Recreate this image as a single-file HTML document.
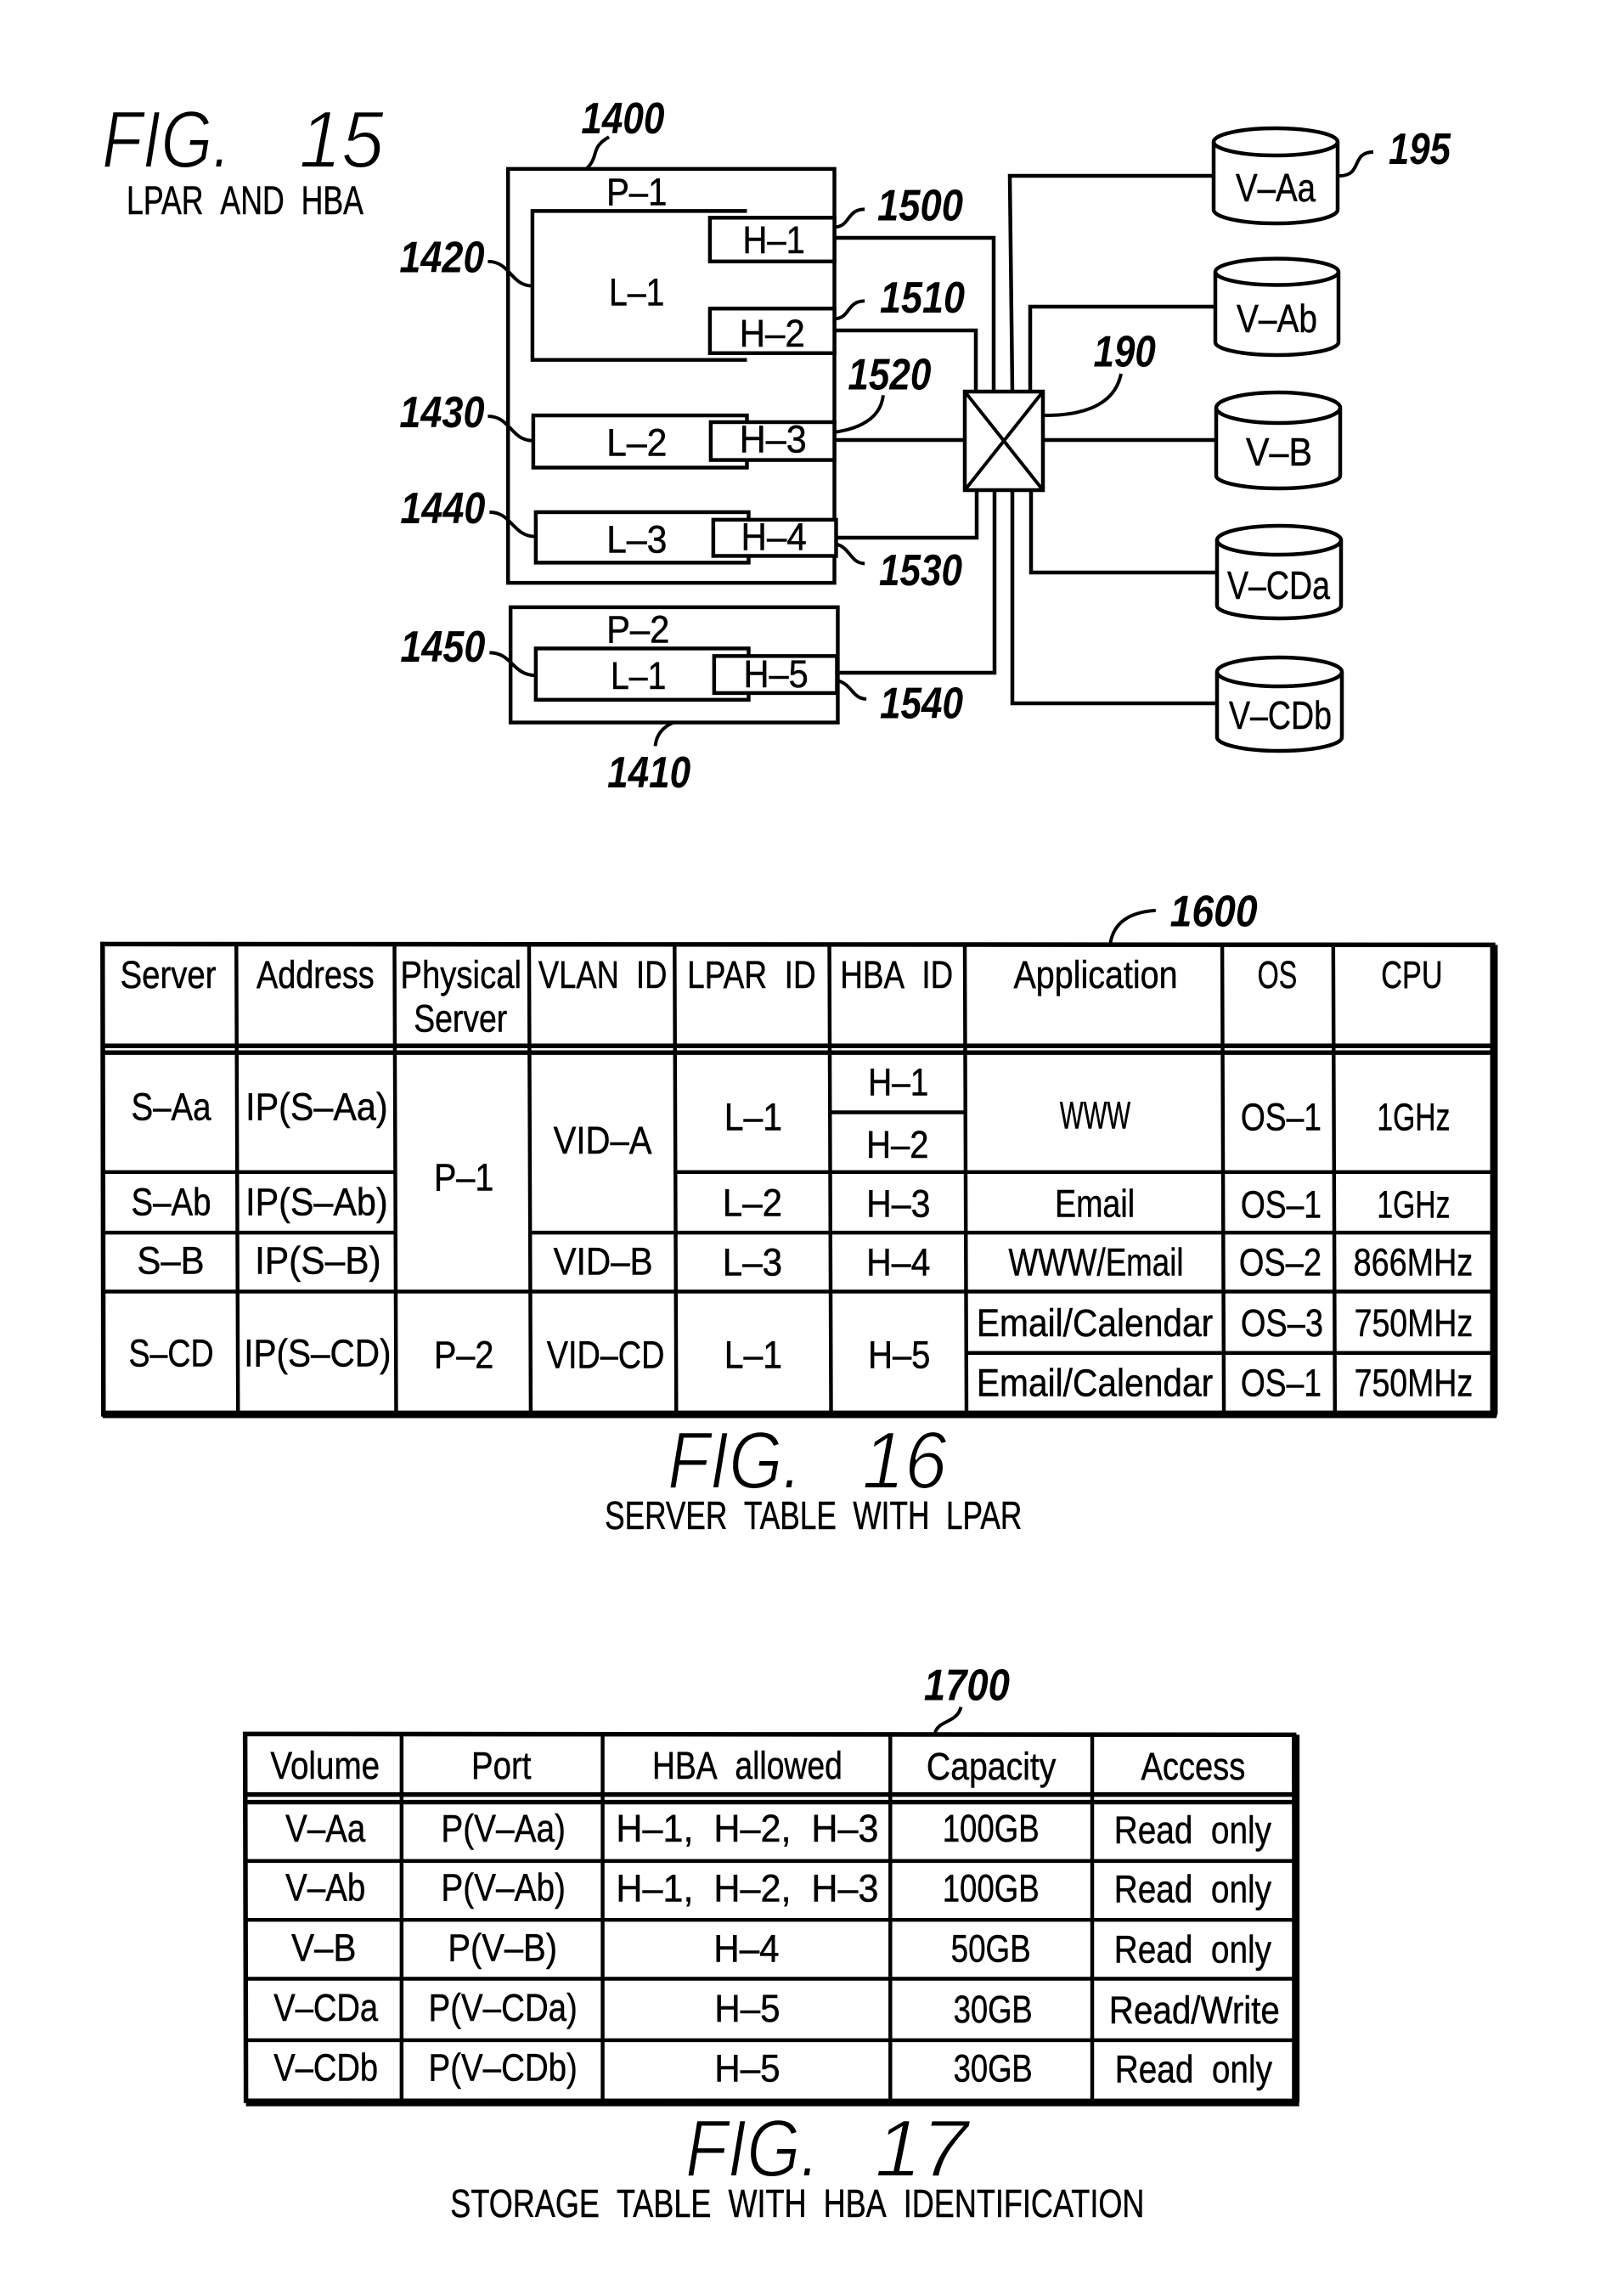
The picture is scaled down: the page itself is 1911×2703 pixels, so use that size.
<!DOCTYPE html>
<html><head><meta charset="utf-8"><title>FIG. 15-17</title>
<style>
html,body{margin:0;padding:0;background:#fff;width:1911px;height:2703px;overflow:hidden}
svg{display:block}
text{font-family:"Liberation Sans",sans-serif;font-size:46px;fill:#000;stroke:#000;stroke-width:.5px}
.n{font-size:52px;font-style:italic;font-weight:bold;stroke-width:0}
.f{font-size:96px;font-style:italic;stroke:#fff;stroke-width:2px}
.c{font-size:47px}
.l{fill:none;stroke:#000;stroke-width:4.5}
.t{fill:none;stroke:#000;stroke-width:4}
.o{fill:none;stroke:#000;stroke-width:5.5}
.h{fill:#fff;stroke:#000;stroke-width:4.5}
.k{fill:none;stroke:#000;stroke-width:9}
</style></head><body>
<svg xmlns="http://www.w3.org/2000/svg" width="1911" height="2703" viewBox="0 0 1911 2703">
<rect width="1911" height="2703" fill="#fff"/>

<!-- FIG 15 title -->
<text class="f" x="120" y="197" textLength="152" lengthAdjust="spacingAndGlyphs">FIG.</text>
<text class="f" x="352" y="197" textLength="100" lengthAdjust="spacingAndGlyphs">15</text>
<text class="c" x="149" y="252" textLength="279" lengthAdjust="spacingAndGlyphs">LPAR&#160;&#160;AND&#160;&#160;HBA</text>

<!-- connectors -->
<path class="l" d="M983,280H1170V461"/>
<path class="l" d="M983,389H1149V461"/>
<path class="l" d="M983,518H1136"/>
<path class="l" d="M984,633H1150V577"/>
<path class="l" d="M985,792H1171V577"/>
<path class="l" d="M1192,461L1189,207H1429"/>
<path class="l" d="M1213,461V361H1431"/>
<path class="l" d="M1228,518H1432"/>
<path class="l" d="M1214,577V674H1433"/>
<path class="l" d="M1192,577V828H1433"/>

<rect class="h" x="1136" y="461" width="92" height="116"/>
<path class="t" d="M1136,461L1228,577M1228,461L1136,577"/>
<path class="t" d="M1320,440Q1310,489 1230,489"/>
<path class="t" d="M1617,179C1590,179 1605,207 1577,207"/>

<!-- cylinders -->
<path class="h" d="M1429,167A73,16 0 0 1 1575,167V247A73,16 0 0 1 1429,247Z"/><path class="l" d="M1429,167A73,16 0 0 0 1575,167"/>
<path class="h" d="M1431,320A72.5,15.5 0 0 1 1576,320V403A72.5,15 0 0 1 1431,403Z"/><path class="l" d="M1431,320A72.5,15.5 0 0 0 1576,320"/>
<path class="h" d="M1432,480A73,18 0 0 1 1578,480V560A73,15 0 0 1 1432,560Z"/><path class="l" d="M1432,480A73,18 0 0 0 1578,480"/>
<path class="h" d="M1433,636A73,17 0 0 1 1579,636V713A73,15 0 0 1 1433,713Z"/><path class="l" d="M1433,636A73,17 0 0 0 1579,636"/>
<path class="h" d="M1433,791A73.5,17 0 0 1 1580,791V868A73.5,16 0 0 1 1433,868Z"/><path class="l" d="M1433,791A73.5,17 0 0 0 1580,791"/>

<text x="1455" y="237" textLength="94" lengthAdjust="spacingAndGlyphs">V–Aa</text>
<text x="1456" y="391" textLength="95" lengthAdjust="spacingAndGlyphs">V–Ab</text>
<text x="1467" y="548" textLength="78" lengthAdjust="spacingAndGlyphs">V–B</text>
<text x="1445" y="705" textLength="121" lengthAdjust="spacingAndGlyphs">V–CDa</text>
<text x="1447" y="858" textLength="121" lengthAdjust="spacingAndGlyphs">V–CDb</text>
<text class="n" x="1635" y="193" textLength="73" lengthAdjust="spacingAndGlyphs">195</text>

<g transform="translate(100 80) scale(.99045) translate(-100 -80)">
<rect class="l" x="603" y="200" width="388" height="492"/>
<rect class="l" x="606" y="721" width="389" height="137"/>

<path class="l" d="M887,250H632V427H887"/>
<rect class="l" x="633" y="493" width="254" height="62"/>
<rect class="l" x="636" y="608" width="253" height="60"/>
<rect class="l" x="636" y="770" width="253" height="61"/>
<rect class="h" x="843" y="258" width="148" height="52"/>
<rect class="h" x="843" y="366" width="148" height="53"/>
<rect class="h" x="844" y="501" width="147" height="45"/>
<rect class="h" x="847" y="617" width="146" height="43"/>
<rect class="h" x="848" y="779" width="146" height="44"/>

<path class="t" d="M723,162C700,175 712,185 696,200"/>
<path class="t" d="M1027,248C1005,248 1010,269 991,269"/>
<path class="t" d="M1027,357C1005,357 1010,378 991,378"/>
<path class="t" d="M1049,469Q1045,505 991,513"/>
<path class="t" d="M1027,669C1010,669 1010,650 993,646"/>
<path class="t" d="M1029,830C1012,830 1012,812 994,808"/>
<path class="t" d="M778,886Q780,866 800,858"/>
<path class="t" d="M579,310C606,310 606,339 632,339"/>
<path class="t" d="M579,494C606,494 606,523 633,523"/>
<path class="t" d="M581,608C608,608 608,637 636,637"/>
<path class="t" d="M581,775C608,775 608,802 636,802"/>

<text class="n" x="690" y="158" textLength="99" lengthAdjust="spacingAndGlyphs">1400</text>
<text class="n" x="1042" y="261" textLength="102" lengthAdjust="spacingAndGlyphs">1500</text>
<text class="n" x="1045" y="371" textLength="101" lengthAdjust="spacingAndGlyphs">1510</text>
<text class="n" x="1007" y="462" textLength="99" lengthAdjust="spacingAndGlyphs">1520</text>
<text class="n" x="1044" y="695" textLength="99" lengthAdjust="spacingAndGlyphs">1530</text>
<text class="n" x="1045" y="853" textLength="99" lengthAdjust="spacingAndGlyphs">1540</text>
<text class="n" x="721" y="935" textLength="99" lengthAdjust="spacingAndGlyphs">1410</text>
<text class="n" x="474" y="323" textLength="101" lengthAdjust="spacingAndGlyphs">1420</text>
<text class="n" x="474" y="507" textLength="101" lengthAdjust="spacingAndGlyphs">1430</text>
<text class="n" x="475" y="621" textLength="101" lengthAdjust="spacingAndGlyphs">1440</text>
<text class="n" x="475" y="786" textLength="101" lengthAdjust="spacingAndGlyphs">1450</text>
<text class="n" x="1299" y="435" textLength="74" lengthAdjust="spacingAndGlyphs">190</text>

<text x="720" y="243" textLength="72" lengthAdjust="spacingAndGlyphs">P–1</text>
<text x="723" y="362" textLength="66" lengthAdjust="spacingAndGlyphs">L–1</text>
<text x="882" y="300" textLength="74" lengthAdjust="spacingAndGlyphs">H–1</text>
<text x="878" y="411" textLength="78" lengthAdjust="spacingAndGlyphs">H–2</text>
<text x="720" y="541" textLength="72" lengthAdjust="spacingAndGlyphs">L–2</text>
<text x="878" y="537" textLength="80" lengthAdjust="spacingAndGlyphs">H–3</text>
<text x="720" y="656" textLength="72" lengthAdjust="spacingAndGlyphs">L–3</text>
<text x="880" y="653" textLength="78" lengthAdjust="spacingAndGlyphs">H–4</text>
<text x="720" y="763" textLength="75" lengthAdjust="spacingAndGlyphs">P–2</text>
<text x="725" y="818" textLength="66" lengthAdjust="spacingAndGlyphs">L–1</text>
<text x="883" y="816" textLength="77" lengthAdjust="spacingAndGlyphs">H–5</text>
</g>

<!-- FIG 16 -->
<text class="f" x="786" y="1752" textLength="158" lengthAdjust="spacingAndGlyphs">FIG.</text>
<text class="f" x="1015" y="1752" textLength="100" lengthAdjust="spacingAndGlyphs">16</text>
<g transform="translate(100 1050) scale(.99045) translate(-100 -1050)">
<path class="t" d="M1373,1072Q1325,1075 1319,1111"/>
<text class="n" x="1390" y="1091" textLength="104" lengthAdjust="spacingAndGlyphs">1600</text>
<path class="o" d="M121,1112L1774,1113L1776,1671L122,1671Z"/>
<path class="k" d="M1775,1113V1671M121,1671H1778"/>
<path class="o" d="M120,1233H1774M120,1241H1775"/>
<path class="l" d="M280,1112L282,1671M468,1112L470,1671M628,1112L630,1671M801,1112L803,1671M985,1112L987,1671M1146,1112L1148,1671M1452,1112L1454,1671M1584,1112L1586,1671"/>
<path class="l" d="M120,1383H470M801,1383H1775M985,1312H1147M120,1455H470M629,1455H1775M121,1525H1775M1147,1598H1775"/>

<text x="142" y="1164" textLength="114" lengthAdjust="spacingAndGlyphs">Server</text>
<text x="304" y="1164" textLength="140" lengthAdjust="spacingAndGlyphs">Address</text>
<text x="475" y="1164" textLength="144" lengthAdjust="spacingAndGlyphs">Physical</text>
<text x="491" y="1216" textLength="111" lengthAdjust="spacingAndGlyphs">Server</text>
<text x="639" y="1164" textLength="153" lengthAdjust="spacingAndGlyphs">VLAN&#160;&#160;ID</text>
<text x="816" y="1164" textLength="153" lengthAdjust="spacingAndGlyphs">LPAR&#160;&#160;ID</text>
<text x="998" y="1164" textLength="134" lengthAdjust="spacingAndGlyphs">HBA&#160;&#160;ID</text>
<text x="1204" y="1164" textLength="195" lengthAdjust="spacingAndGlyphs">Application</text>
<text x="1494" y="1164" textLength="47" lengthAdjust="spacingAndGlyphs">OS</text>
<text x="1641" y="1164" textLength="73" lengthAdjust="spacingAndGlyphs">CPU</text>

<text x="155" y="1321" textLength="95" lengthAdjust="spacingAndGlyphs">S–Aa</text>
<text x="291" y="1321" textLength="169" lengthAdjust="spacingAndGlyphs">IP(S–Aa)</text>
<text x="155" y="1434" textLength="95" lengthAdjust="spacingAndGlyphs">S–Ab</text>
<text x="291" y="1434" textLength="169" lengthAdjust="spacingAndGlyphs">IP(S–Ab)</text>
<text x="162" y="1504" textLength="80" lengthAdjust="spacingAndGlyphs">S–B</text>
<text x="302" y="1504" textLength="150" lengthAdjust="spacingAndGlyphs">IP(S–B)</text>
<text x="152" y="1614" textLength="101" lengthAdjust="spacingAndGlyphs">S–CD</text>
<text x="289" y="1614" textLength="175" lengthAdjust="spacingAndGlyphs">IP(S–CD)</text>
<text x="515" y="1405" textLength="71" lengthAdjust="spacingAndGlyphs">P–1</text>
<text x="515" y="1616" textLength="71" lengthAdjust="spacingAndGlyphs">P–2</text>
<text x="657" y="1361" textLength="117" lengthAdjust="spacingAndGlyphs">VID–A</text>
<text x="657" y="1505" textLength="118" lengthAdjust="spacingAndGlyphs">VID–B</text>
<text x="649" y="1616" textLength="140" lengthAdjust="spacingAndGlyphs">VID–CD</text>
<text x="860" y="1333" textLength="69" lengthAdjust="spacingAndGlyphs">L–1</text>
<text x="858" y="1435" textLength="71" lengthAdjust="spacingAndGlyphs">L–2</text>
<text x="858" y="1506" textLength="71" lengthAdjust="spacingAndGlyphs">L–3</text>
<text x="860" y="1616" textLength="69" lengthAdjust="spacingAndGlyphs">L–1</text>
<text x="1031" y="1292" textLength="72" lengthAdjust="spacingAndGlyphs">H–1</text>
<text x="1029" y="1366" textLength="74" lengthAdjust="spacingAndGlyphs">H–2</text>
<text x="1029" y="1436" textLength="76" lengthAdjust="spacingAndGlyphs">H–3</text>
<text x="1029" y="1506" textLength="76" lengthAdjust="spacingAndGlyphs">H–4</text>
<text x="1031" y="1616" textLength="74" lengthAdjust="spacingAndGlyphs">H–5</text>
<text x="1259" y="1331" textLength="84" lengthAdjust="spacingAndGlyphs">WWW</text>
<text x="1253" y="1436" textLength="95" lengthAdjust="spacingAndGlyphs">Email</text>
<text x="1198" y="1506" textLength="208" lengthAdjust="spacingAndGlyphs">WWW/Email</text>
<text x="1160" y="1578" textLength="281" lengthAdjust="spacingAndGlyphs">Email/Calendar</text>
<text x="1160" y="1649" textLength="281" lengthAdjust="spacingAndGlyphs">Email/Calendar</text>
<text x="1474" y="1333" textLength="96" lengthAdjust="spacingAndGlyphs">OS–1</text>
<text x="1474" y="1437" textLength="96" lengthAdjust="spacingAndGlyphs">OS–1</text>
<text x="1472" y="1506" textLength="98" lengthAdjust="spacingAndGlyphs">OS–2</text>
<text x="1474" y="1578" textLength="98" lengthAdjust="spacingAndGlyphs">OS–3</text>
<text x="1474" y="1649" textLength="96" lengthAdjust="spacingAndGlyphs">OS–1</text>
<text x="1636" y="1333" textLength="87" lengthAdjust="spacingAndGlyphs">1GHz</text>
<text x="1636" y="1437" textLength="87" lengthAdjust="spacingAndGlyphs">1GHz</text>
<text x="1608" y="1506" textLength="142" lengthAdjust="spacingAndGlyphs">866MHz</text>
<text x="1609" y="1578" textLength="141" lengthAdjust="spacingAndGlyphs">750MHz</text>
<text x="1609" y="1649" textLength="141" lengthAdjust="spacingAndGlyphs">750MHz</text>

<text class="c" x="718" y="1807" textLength="496" lengthAdjust="spacingAndGlyphs">SERVER&#160;&#160;TABLE&#160;&#160;WITH&#160;&#160;LPAR</text>
</g>

<!-- FIG 17 -->
<text class="f" x="807" y="2562" textLength="158" lengthAdjust="spacingAndGlyphs">FIG.</text>
<text class="f" x="1030" y="2562" textLength="110" lengthAdjust="spacingAndGlyphs">17</text>
<g transform="translate(250 1970) scale(.99045) translate(-250 -1970)">
<text class="n" x="1096" y="2002" textLength="102" lengthAdjust="spacingAndGlyphs">1700</text>
<path class="t" d="M1140,2010C1135,2030 1112,2025 1109,2042"/>
<path class="o" d="M289,2042L1536,2043L1538,2479L290,2478Z"/>
<path class="k" d="M1538,2043V2480M290,2480H1542"/>
<path class="o" d="M289,2114H1537M289,2123H1537"/>
<path class="l" d="M475,2042V2478M714,2042V2478M1056,2042V2479M1296,2042V2479"/>
<path class="l" d="M289,2193H1537M289,2263H1537M289,2333H1537M289,2406H1538"/>

<text x="319" y="2095" textLength="130" lengthAdjust="spacingAndGlyphs">Volume</text>
<text x="558" y="2095" textLength="71" lengthAdjust="spacingAndGlyphs">Port</text>
<text x="773" y="2095" textLength="226" lengthAdjust="spacingAndGlyphs">HBA&#160;&#160;allowed</text>
<text x="1099" y="2096" textLength="154" lengthAdjust="spacingAndGlyphs">Capacity</text>
<text x="1354" y="2096" textLength="124" lengthAdjust="spacingAndGlyphs">Access</text>

<text x="337" y="2170" textLength="95" lengthAdjust="spacingAndGlyphs">V–Aa</text>
<text x="522" y="2170" textLength="148" lengthAdjust="spacingAndGlyphs">P(V–Aa)</text>
<text x="730" y="2170" textLength="312" lengthAdjust="spacingAndGlyphs">H–1,&#160;&#160;H–2,&#160;&#160;H–3</text>
<text x="1118" y="2170" textLength="115" lengthAdjust="spacingAndGlyphs">100GB</text>
<text x="1322" y="2172" textLength="187" lengthAdjust="spacingAndGlyphs">Read&#160;&#160;only</text>

<text x="337" y="2240" textLength="95" lengthAdjust="spacingAndGlyphs">V–Ab</text>
<text x="522" y="2240" textLength="148" lengthAdjust="spacingAndGlyphs">P(V–Ab)</text>
<text x="730" y="2241" textLength="312" lengthAdjust="spacingAndGlyphs">H–1,&#160;&#160;H–2,&#160;&#160;H–3</text>
<text x="1118" y="2241" textLength="115" lengthAdjust="spacingAndGlyphs">100GB</text>
<text x="1322" y="2242" textLength="187" lengthAdjust="spacingAndGlyphs">Read&#160;&#160;only</text>

<text x="344" y="2312" textLength="77" lengthAdjust="spacingAndGlyphs">V–B</text>
<text x="530" y="2312" textLength="130" lengthAdjust="spacingAndGlyphs">P(V–B)</text>
<text x="846" y="2313" textLength="78" lengthAdjust="spacingAndGlyphs">H–4</text>
<text x="1128" y="2313" textLength="95" lengthAdjust="spacingAndGlyphs">50GB</text>
<text x="1322" y="2314" textLength="187" lengthAdjust="spacingAndGlyphs">Read&#160;&#160;only</text>

<text x="323" y="2383" textLength="124" lengthAdjust="spacingAndGlyphs">V–CDa</text>
<text x="507" y="2383" textLength="177" lengthAdjust="spacingAndGlyphs">P(V–CDa)</text>
<text x="847" y="2384" textLength="78" lengthAdjust="spacingAndGlyphs">H–5</text>
<text x="1131" y="2385" textLength="94" lengthAdjust="spacingAndGlyphs">30GB</text>
<text x="1316" y="2386" textLength="203" lengthAdjust="spacingAndGlyphs">Read/Write</text>

<text x="323" y="2454" textLength="124" lengthAdjust="spacingAndGlyphs">V–CDb</text>
<text x="507" y="2454" textLength="177" lengthAdjust="spacingAndGlyphs">P(V–CDb)</text>
<text x="847" y="2455" textLength="78" lengthAdjust="spacingAndGlyphs">H–5</text>
<text x="1131" y="2455" textLength="94" lengthAdjust="spacingAndGlyphs">30GB</text>
<text x="1323" y="2456" textLength="187" lengthAdjust="spacingAndGlyphs">Read&#160;&#160;only</text>

<text class="c" x="533" y="2616" textLength="825" lengthAdjust="spacingAndGlyphs">STORAGE&#160;&#160;TABLE&#160;&#160;WITH&#160;&#160;HBA&#160;&#160;IDENTIFICATION</text>
</g>
</svg>
</body></html>
